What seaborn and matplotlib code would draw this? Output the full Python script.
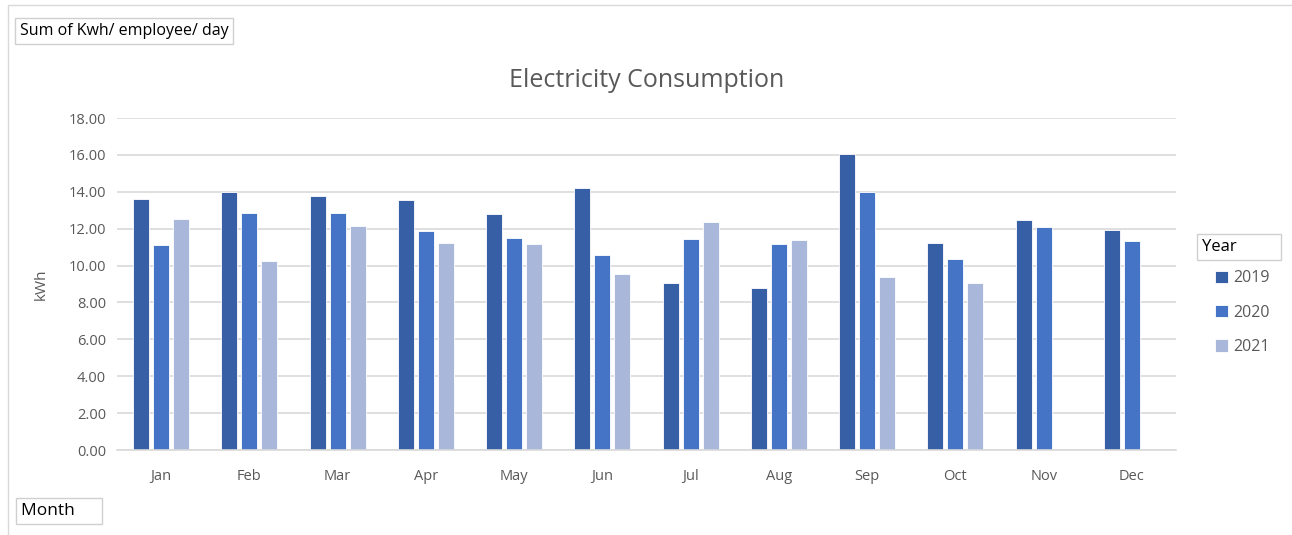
import pandas as pd
import numpy as np
import matplotlib.pyplot as plt
import seaborn as sns
from matplotlib.patches import Rectangle

# values (kWh per employee per day)
months = ["Jan", "Feb", "Mar", "Apr", "May", "Jun",
          "Jul", "Aug", "Sep", "Oct", "Nov", "Dec"]
years = ["2019", "2020", "2021"]
kwh_2019 = [13.61, 13.99, 13.77, 13.54, 12.80, 14.19, 9.06, 8.77, 16.03, 11.24, 12.45, 11.91]
kwh_2020 = [11.10, 12.87, 12.83, 11.86, 11.48, 10.56, 11.46, 11.17, 13.99, 10.34, 12.11, 11.33]
kwh_2021 = [12.53, 10.23, 12.15, 11.21, 11.17, 9.53, 12.35, 11.39, 9.40, 9.04, np.nan, np.nan]
colors = ["#365FA6", "#4574C6", "#A9B7DB"]

df = pd.DataFrame({
    "Month": months * 3,
    "Year": [y for y in years for _ in months],
    "kWh": kwh_2019 + kwh_2020 + kwh_2021,
})

sns.set_theme(style="white")
plt.rcParams["font.family"] = ["Open Sans", "DejaVu Sans"]

fig = plt.figure(figsize=(12.92, 5.35), dpi=100)
ax = fig.add_axes([117 / 1292, 85 / 535, 1059 / 1292, 332 / 535])

sns.barplot(data=df, x="Month", y="kWh", hue="Year", order=months,
            hue_order=years, palette=colors, width=0.68, gap=0.2,
            edgecolor="white", linewidth=0.6, saturation=1, ax=ax)

ax.set_ylim(0, 18)
ax.set_xlim(-0.5, 11.5)
ax.set_yticks(np.arange(0, 18.01, 2))
ax.set_yticklabels([f"{v:.2f}" for v in np.arange(0, 18.01, 2)])
ax.yaxis.grid(True, color="#D9D9D9", linewidth=1.2)
ax.set_axisbelow(True)
for side in ["top", "right", "left"]:
    ax.spines[side].set_visible(False)
ax.spines["bottom"].set_color("#D9D9D9")
ax.spines["bottom"].set_linewidth(1.2)
ax.tick_params(axis="both", colors="#595959", labelsize=10.5, length=0, pad=8)
ax.tick_params(axis="x", pad=14)
ax.set_xlabel("")
ax.set_ylabel("kWh", color="#595959", fontsize=11, labelpad=14)
ax.set_title("Electricity Consumption", color="#595959", fontsize=18, pad=22)

# legend on the right, with the "Year" field button above it
handles, labels = ax.get_legend_handles_labels()
ax.get_legend().remove()
fig.legend(handles, labels, loc="upper left", bbox_to_anchor=(1201 / 1292, 1 - 256 / 535),
           frameon=False, fontsize=11.5, labelcolor="#595959", handlelength=0.8,
           handleheight=0.8, handletextpad=0.3, labelspacing=1.15)

box_kw = dict(boxstyle="square,pad=0.3", facecolor="white", edgecolor="#D0D0D0", linewidth=1)
fig.text(1202 / 1292, 1 - 247 / 535, "Year         ", fontsize=12, color="black",
         va="center", ha="left", bbox=box_kw)
fig.text(20 / 1292, 1 - 31 / 535, "Sum of Kwh/ employee/ day", fontsize=11.5,
         color="black", va="center", ha="left", bbox=box_kw)
fig.text(21 / 1292, 1 - 511 / 535, "Month     ", fontsize=12.5, color="black",
         va="center", ha="left", bbox=box_kw)

# thin outer frame of the chart area
fig.patches.append(Rectangle((8 / 1292, -0.01), 1.0, 1 - 5 / 535 + 0.01, transform=fig.transFigure,
                             fill=False, edgecolor="#D9D9D9", linewidth=1))

fig.savefig("out.png", dpi=100)
